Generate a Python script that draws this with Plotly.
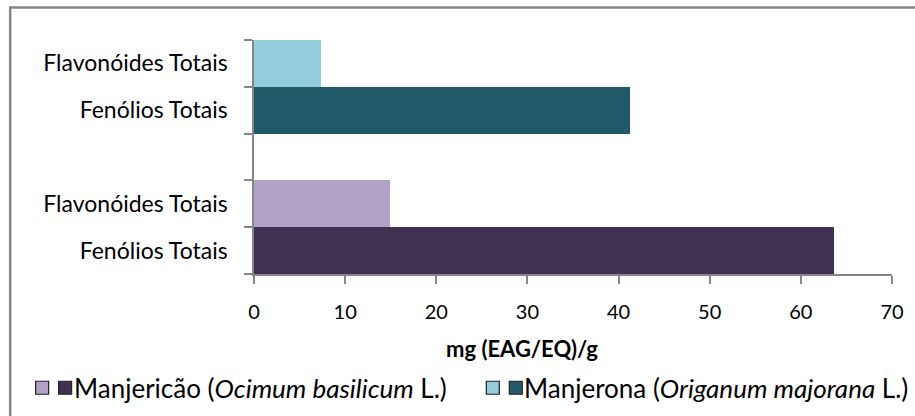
import plotly.graph_objects as go

# categorias (de baixo para cima); "\u200b" só distingue os rótulos repetidos
categorias = ["Fenólios Totais", "Flavonóides Totais", " ",
              "Fenólios Totais\u200b", "Flavonóides Totais\u200b"]

manjericao_cat = ["Fenólios Totais", "Flavonóides Totais"]
manjericao_val = [63.6, 14.9]
manjerona_cat = ["Fenólios Totais\u200b", "Flavonóides Totais\u200b"]
manjerona_val = [41.3, 7.3]

cores_manjericao = ["#403152", "#B3A2C7"]
cores_manjerona = ["#215968", "#93CDDD"]

W, H = 915, 416
L, R, T, B = 253.5, 23, 39.5, 142
FONTE = "Lato"
CINZA = "#868686"

fig = go.Figure()
fig.add_trace(go.Bar(y=manjericao_cat, x=manjericao_val, orientation="h",
                     marker=dict(color=cores_manjericao, line=dict(width=0)),
                     width=1, name="Manjericão"))
fig.add_trace(go.Bar(y=manjerona_cat, x=manjerona_val, orientation="h",
                     marker=dict(color=cores_manjerona, line=dict(width=0)),
                     width=1, name="Manjerona"))

pw = W - L - R
ph = H - T - B


def px_x(p):
    return (p - L) / pw


def px_y(p):
    return (H - B - p) / ph


fig.update_layout(
    width=W, height=H, autosize=False,
    margin=dict(l=L, r=R, t=T, b=B, pad=0),
    plot_bgcolor="white", paper_bgcolor="white",
    barmode="overlay", bargap=0, showlegend=False,
    font=dict(family=FONTE, size=23, color="#000000"),
    xaxis=dict(range=[0, 70], dtick=10, showgrid=False, zeroline=False,
               showline=True, linecolor=CINZA, linewidth=1.5,
               ticks="outside", ticklen=8, tickcolor=CINZA, tickwidth=1.5,
               tickfont=dict(size=20), ticklabelstandoff=11),
    yaxis=dict(type="category", categoryorder="array", categoryarray=categorias,
               range=[-0.5, 4.5], showgrid=False, zeroline=False,
               showline=True, linecolor=CINZA, linewidth=1.5,
               ticks="outside", ticklen=8, tickcolor=CINZA, tickwidth=1.5,
               tickson="boundaries", ticklabelstandoff=20),
)

# título do eixo x
fig.add_annotation(text="<b>mg (EAG/EQ)/g</b>", xref="paper", yref="paper",
                   x=px_x(522), y=px_y(349), xanchor="center", yanchor="middle",
                   showarrow=False, font=dict(family=FONTE, size=22))

# borda da área do gráfico
fig.add_shape(type="rect", xref="paper", yref="paper",
              x0=px_x(9.5), x1=px_x(W + 20), y0=px_y(7), y1=px_y(H + 20),
              line=dict(color=CINZA, width=2.5), fillcolor="rgba(0,0,0,0)")

# legenda (dois quadrados por série)
legenda = [
    (35, cores_manjericao[::-1], "Manjericão (<i>Ocimum basilicum</i> L.)"),
    (486, cores_manjerona[::-1], "Manjerona (<i>Origanum majorana</i> L.)"),
]
yc = 388
for x0, cores, texto in legenda:
    for i, c in enumerate(cores):
        xs = x0 + i * 23
        fig.add_shape(type="rect", xref="paper", yref="paper",
                      x0=px_x(xs), x1=px_x(xs + 13),
                      y0=px_y(yc + 6.5), y1=px_y(yc - 6.5),
                      line=dict(color="#222222", width=1.2), fillcolor=c)
    fig.add_annotation(text=texto, xref="paper", yref="paper",
                       x=px_x(x0 + 36), y=px_y(yc), xanchor="left",
                       yanchor="middle", showarrow=False,
                       font=dict(family=FONTE, size=26))

# sem a margem padrão do <body>, para a figura começar em (0, 0)
fig.write_html("out.html", config={"displayModeBar": False},
               post_script="document.body.style.margin='0';")
